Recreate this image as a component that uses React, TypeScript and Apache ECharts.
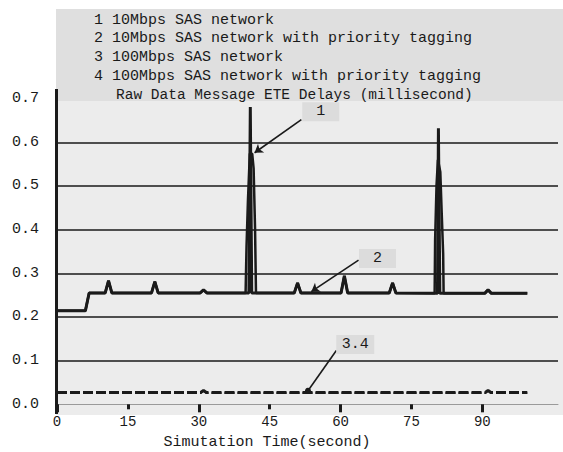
import React, { useEffect, useRef } from "react";
import * as echarts from "echarts";

// ---- data ----
const legendLines = [
  "1 10Mbps SAS network",
  "2 10Mbps SAS network with priority tagging",
  "3 100Mbps SAS network",
  "4 100Mbps SAS network with priority tagging",
];
const chartTitle = "Raw Data Message ETE Delays (millisecond)";
const xAxisTitle = "Simutation Time(second)";
const seriesNames = [
  "10Mbps SAS network",
  "10Mbps SAS network with priority tagging",
  "100Mbps SAS network",
  "100Mbps SAS network with priority tagging",
];
const xMajorTicks = [0, 30, 60, 90];
const xMinorTicks = [15, 45, 75];
const xLabelTicks = [0, 15, 30, 45, 60, 75, 90];

const s1Time = [0, 6.0, 6.8, 10.2, 10.9, 11.6, 20.0, 20.7, 21.4, 30.3, 31.0, 31.7, 40.6, 40.9, 41.2, 50.2, 50.9, 51.6, 60.1, 60.8, 61.5, 70.3, 71.0, 71.7, 80.5, 80.7, 81.0, 90.5, 91.2, 91.9, 99.5];
const s1Delay = [0.214, 0.214, 0.255, 0.255, 0.283, 0.255, 0.255, 0.281, 0.255, 0.255, 0.262, 0.255, 0.255, 0.681, 0.255, 0.255, 0.278, 0.255, 0.255, 0.294, 0.255, 0.255, 0.278, 0.255, 0.254, 0.632, 0.254, 0.254, 0.262, 0.254, 0.254];

const s2Time = [0, 6.0, 6.8, 10.2, 10.9, 11.6, 20.0, 20.7, 21.4, 30.3, 31.0, 31.7, 39.9, 40.1, 40.4, 40.8, 41.3, 41.6, 41.9, 42.1, 50.2, 50.9, 51.6, 60.1, 60.8, 61.5, 70.3, 71.0, 71.7, 79.9, 80.0, 80.3, 80.6, 81.1, 81.4, 81.7, 81.8, 90.5, 91.2, 91.9, 99.5];
const s2Delay = [0.214, 0.214, 0.255, 0.255, 0.283, 0.255, 0.255, 0.281, 0.255, 0.255, 0.262, 0.255, 0.255, 0.361, 0.467, 0.574, 0.574, 0.54, 0.404, 0.255, 0.255, 0.278, 0.255, 0.255, 0.294, 0.255, 0.255, 0.278, 0.255, 0.254, 0.376, 0.502, 0.56, 0.532, 0.437, 0.345, 0.254, 0.254, 0.262, 0.254, 0.254];

const s3Time = [0, 30.4, 31.0, 31.6, 90.6, 91.2, 91.8, 99.5];
const s3Delay = [0.027, 0.027, 0.032, 0.027, 0.027, 0.032, 0.027, 0.027];
const s4Time = [0, 30.4, 31.0, 31.6, 90.6, 91.2, 91.8, 99.5];
const s4Delay = [0.026, 0.026, 0.031, 0.026, 0.026, 0.031, 0.026, 0.026];

// annotation callouts (data space)
const note1 = { label: "1", box: [55.8, 0.67], from: [51.7, 0.652], to: [41.8, 0.576] };
const note2 = { label: "2", box: [67.8, 0.334], from: [63.8, 0.33], to: [53.8, 0.258] };
const note34 = { label: "3.4", box: [63.1, 0.137], from: [59.1, 0.123], to: [53.1, 0.031] };

const MONO = '"Liberation Mono", "DejaVu Sans Mono", monospace';
const INK = "#1a1a1a";

const zip = (t: number[], v: number[]) => t.map((x, i) => [x, v[i]]);

function callout(n: { label: string; box: number[]; from: number[]; to: number[] }, endSymbol: string, w: number) {
  return {
    markPoint: {
      silent: true,
      data: [
        {
          coord: n.box,
          symbol: "rect",
          symbolSize: [w, 19],
          itemStyle: { color: "#dcdcdc" },
          label: {
            show: true,
            position: "inside",
            formatter: n.label,
            color: INK,
            fontFamily: MONO,
            fontSize: 15,
          },
        },
      ],
    },
    markLine: {
      silent: true,
      symbol: ["none", endSymbol],
      symbolSize: endSymbol === "circle" ? 6 : 8,
      label: { show: false },
      lineStyle: { color: INK, width: 1.6, type: "solid" },
      data: [[{ coord: n.from }, { coord: n.to }]],
    },
  };
}

export default function App() {
  const ref = useRef<HTMLDivElement>(null);
  useEffect(() => {
    if (!ref.current) return;
    const chart = echarts.init(ref.current, null, { renderer: "svg" });
    const legendY = [20, 38.5, 57, 76];
    chart.setOption({
      animation: false,
      backgroundColor: "#ffffff",
      grid: { left: 57, right: 5, top: 98.6, bottom: 47.7, containLabel: false },
      graphic: [
        { type: "rect", z: -10, silent: true, shape: { x: 56, y: 100, width: 507, height: 315 }, style: { fill: "#ececec" } },
        { type: "rect", z: -10, silent: true, shape: { x: 56, y: 9, width: 507, height: 92 }, style: { fill: "#dfdfdf" } },
        ...legendLines.map((t, i) => ({
          type: "text",
          x: 94,
          y: legendY[i],
          silent: true,
          style: { text: t, fontFamily: MONO, fontSize: 15, fill: INK, textAlign: "left", textVerticalAlign: "middle" },
        })),
        {
          type: "text",
          x: 116,
          y: 95,
          silent: true,
          style: { text: chartTitle, fontFamily: MONO, fontSize: 14.5, fill: INK, textAlign: "left", textVerticalAlign: "middle" },
        },
        {
          type: "text",
          x: 267,
          y: 442,
          silent: true,
          style: { text: xAxisTitle, fontFamily: MONO, fontSize: 15, fill: INK, textAlign: "center", textVerticalAlign: "middle" },
        },
        {
          type: "line",
          z: 50,
          silent: true,
          shape: { x1: 56.5, y1: 89, x2: 56.5, y2: 414 },
          style: { stroke: INK, lineWidth: 3 },
        },
      ],
      xAxis: [
        {
          type: "value",
          min: 0,
          max: 106,
          interval: 15,
          position: "bottom",
          axisLine: { show: true, onZero: false, lineStyle: { color: "#9a9a9a", width: 1 } },
          axisTick: { show: true, customValues: xMajorTicks, length: 8, lineStyle: { color: INK, width: 3 } },
          axisLabel: {
            show: true,
            customValues: xLabelTicks,
            margin: 11,
            color: INK,
            fontFamily: MONO,
            fontSize: 14,
          },
          splitLine: { show: false },
        },
        {
          type: "value",
          min: 0,
          max: 106,
          interval: 15,
          position: "bottom",
          offset: 0,
          axisLine: { show: false },
          axisTick: { show: true, customValues: xMinorTicks, length: 5, lineStyle: { color: INK, width: 3 } },
          axisLabel: { show: false },
          splitLine: { show: false },
        },
      ],
      yAxis: {
        type: "value",
        min: 0,
        max: 0.7,
        interval: 0.1,
        axisLine: { show: false },
        axisTick: { show: false },
        axisLabel: {
          margin: 18,
          color: INK,
          fontFamily: MONO,
          fontSize: 15,
          formatter: (v: number) => v.toFixed(1),
        },
        splitLine: { show: true, showMinLine: false, showMaxLine: false, lineStyle: { color: INK, width: 1.5 } },
      },
      series: [
        {
          name: seriesNames[0],
          type: "line",
          data: zip(s1Time, s1Delay),
          showSymbol: false,
          z: 5,
          lineStyle: { color: INK, width: 3 },
          ...callout(note1, "arrow", 37),
        },
        {
          name: seriesNames[1],
          type: "line",
          data: zip(s2Time, s2Delay),
          showSymbol: false,
          z: 4,
          lineStyle: { color: INK, width: 2.5 },
          ...callout(note2, "arrow", 37),
        },
        {
          name: seriesNames[2],
          type: "line",
          data: zip(s3Time, s3Delay),
          showSymbol: false,
          z: 4,
          lineStyle: { color: INK, width: 3, type: [10, 3] },
          ...callout(note34, "circle", 38),
        },
        {
          name: seriesNames[3],
          type: "line",
          data: zip(s4Time, s4Delay),
          showSymbol: false,
          z: 3,
          lineStyle: { color: INK, width: 2, type: [10, 3] },
        },
      ],
    });
    return () => chart.dispose();
  }, []);
  return <div ref={ref} style={{ position: "absolute", left: 0, top: 0, width: 563, height: 452 }} />;
}
